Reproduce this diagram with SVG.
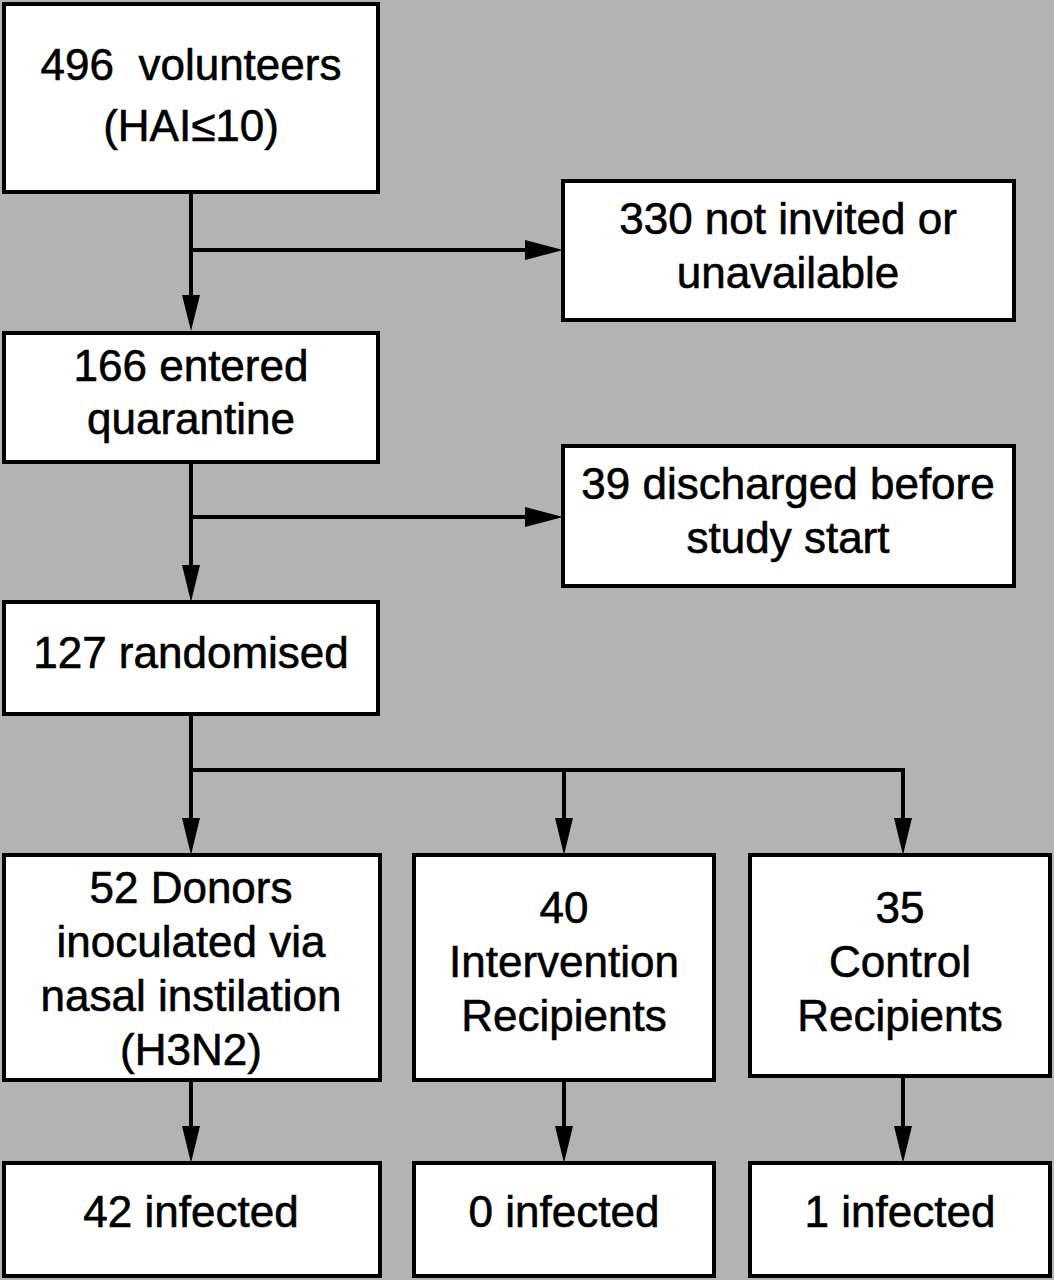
<svg xmlns="http://www.w3.org/2000/svg" width="1054" height="1280" viewBox="0 0 1054 1280">
<defs>
<style>
.b{fill:#fff;stroke:#000;stroke-width:4}
.t{font-family:"Liberation Sans",Arial,sans-serif;font-size:44px;text-anchor:middle;fill:#000;stroke:#000;stroke-width:0.6}
.c{stroke:#000;stroke-width:4;fill:none}
</style>
</defs>
<rect width="1054" height="1280" fill="#b3b3b3"/>
<g id="connectors">
<path class="c" d="M191,192V300"/>
<path d="M182,295L191,331L200,295z"/>
<path class="c" d="M191,250H530"/><path d="M525,240L563,250L525,260z"/>
<path class="c" d="M191,462V570"/><path d="M182,565L191,602L200,565z"/>
<path class="c" d="M191,517H530"/><path d="M525,507L563,517L525,527z"/>
<path class="c" d="M191,714V823M191,770H903V823M564,770V823"/>
<path d="M182,818L191,855L200,818z M555,818L564,855L573,818z M894,818L903,855L912,818z"/>
<path class="c" d="M191,1080V1130M564,1080V1130M903,1076V1130"/>
<path d="M182,1126L191,1163L200,1126z M555,1126L564,1163L573,1126z M894,1126L903,1163L912,1126z"/>
</g>
<g id="n1"><rect class="b" x="4" y="4" width="374" height="188"/><text class="t" x="191" y="80" xml:space="preserve">496  volunteers</text><text class="t" x="191" y="141">(HAI≤10)</text></g>
<g id="n2"><rect class="b" x="563" y="181" width="451" height="139"/><text class="t" x="788" y="234">330 not invited or</text><text class="t" x="788" y="288">unavailable</text></g>
<g id="n3"><rect class="b" x="4" y="333" width="374" height="129"/><text class="t" x="191" y="381">166 entered</text><text class="t" x="191" y="434">quarantine</text></g>
<g id="n4"><rect class="b" x="563" y="446" width="451" height="140"/><text class="t" x="788" y="499">39 discharged before</text><text class="t" x="788" y="553">study start</text></g>
<g id="n5"><rect class="b" x="4" y="602" width="374" height="112"/><text class="t" x="191" y="668">127 randomised</text></g>
<g id="n6"><rect class="b" x="4" y="855" width="376" height="225"/><text class="t" x="191" y="903">52 Donors</text><text class="t" x="191" y="957">inoculated via</text><text class="t" x="191" y="1011">nasal instilation</text><text class="t" x="191" y="1065">(H3N2)</text></g>
<g id="n7"><rect class="b" x="414" y="855" width="300" height="225"/><text class="t" x="564" y="923">40</text><text class="t" x="564" y="977">Intervention</text><text class="t" x="564" y="1031">Recipients</text></g>
<g id="n8"><rect class="b" x="750" y="855" width="300" height="221"/><text class="t" x="900" y="923">35</text><text class="t" x="900" y="977">Control</text><text class="t" x="900" y="1031">Recipients</text></g>
<g id="n9"><rect class="b" x="4" y="1163" width="376" height="113"/><text class="t" x="191" y="1227">42 infected</text></g>
<g id="n10"><rect class="b" x="414" y="1163" width="300" height="113"/><text class="t" x="564" y="1227">0 infected</text></g>
<g id="n11"><rect class="b" x="750" y="1163" width="300" height="113"/><text class="t" x="900" y="1227">1 infected</text></g>
</svg>
